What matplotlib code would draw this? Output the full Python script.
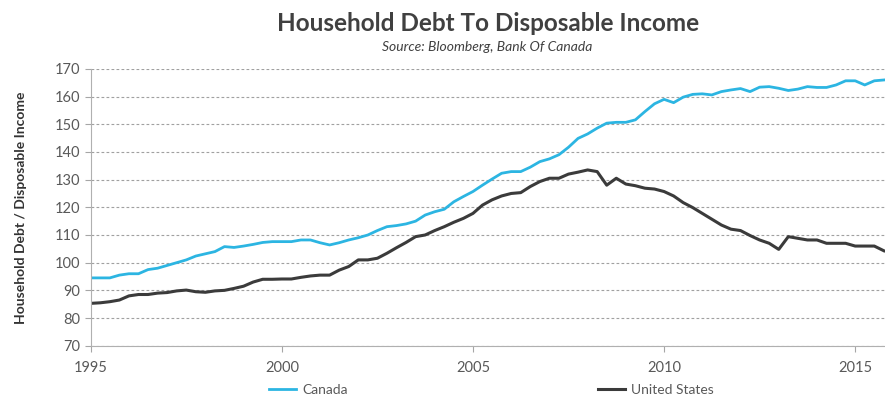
import numpy as np
import matplotlib.pyplot as plt

# Quartalswerte 1995 Q1 bis 2015 Q4
quarters = 1995 + np.arange(84) * 0.25

canada = [94.5, 94.5, 94.5, 95.5, 96.0, 96.0, 97.5, 98.0, 99.0, 100.0, 101.0, 102.4,
          103.2, 104.0, 105.8, 105.5, 106.0, 106.6, 107.3, 107.6, 107.6, 107.6, 108.2, 108.2,
          107.2, 106.4, 107.2, 108.2, 109.0, 110.0, 111.6, 113.0, 113.4, 114.0, 115.0, 117.2,
          118.4, 119.3, 122.0, 123.9, 125.7, 128.0, 130.2, 132.3, 132.9, 132.9, 134.5, 136.5,
          137.5, 139.0, 141.7, 144.9, 146.5, 148.6, 150.4, 150.7, 150.7, 151.6, 154.6, 157.4,
          159.0, 157.8, 159.8, 160.8, 161.0, 160.6, 161.8, 162.4, 162.9, 161.8, 163.4, 163.6,
          163.0, 162.2, 162.7, 163.6, 163.3, 163.3, 164.2, 165.7, 165.7, 164.2, 165.7, 166.0]

usa = [85.3, 85.5, 85.9, 86.5, 88.0, 88.5, 88.5, 89.0, 89.2, 89.8, 90.1, 89.5,
       89.3, 89.8, 90.0, 90.7, 91.5, 93.0, 94.0, 94.0, 94.1, 94.1, 94.7, 95.2,
       95.5, 95.5, 97.3, 98.6, 101.0, 101.0, 101.6, 103.4, 105.4, 107.3, 109.4, 110.0,
       111.6, 113.0, 114.6, 116.0, 117.8, 120.8, 122.7, 124.1, 125.0, 125.3, 127.5, 129.3,
       130.5, 130.5, 132.0, 132.7, 133.5, 132.9, 128.0, 130.5, 128.4, 127.8, 126.9, 126.6,
       125.7, 124.1, 121.7, 119.9, 117.8, 115.7, 113.6, 112.1, 111.6, 109.8, 108.2, 107.0,
       104.8, 109.4, 108.8, 108.2, 108.2, 107.0, 107.0, 107.0, 106.0, 106.0, 106.0, 104.3]

year_ticks = [1995, 2000, 2005, 2010, 2015]
value_ticks = list(range(70, 171, 10))

plt.rcParams['font.family'] = ['Lato', 'DejaVu Sans']
text_col = '#595959'

fig = plt.figure(figsize=(8.85, 3.96), dpi=100)
ax = fig.add_axes([0.1025, 0.127, 0.8975, 0.699])

ax.plot(quarters, canada, color='#2cb5e2', lw=2.0, label='Canada')
ax.plot(quarters, usa, color='#3b3b3b', lw=2.2, label='United States')

ax.set_xlim(1995, 2015.78)
ax.set_ylim(70, 170)
ax.set_xticks(year_ticks)
ax.set_yticks(value_ticks)
ax.tick_params(colors='#a6a6a6', labelcolor=text_col, labelsize=10.5, length=4)
ax.tick_params(axis='x', pad=7)

ax.grid(axis='y', color='#a0a0a0', linestyle=(0, (2.5, 2)), lw=0.8)
ax.set_axisbelow(True)
for s in ['top', 'right']:
    ax.spines[s].set_visible(False)
for s in ['left', 'bottom']:
    ax.spines[s].set_color('#b0b0b0')

ax.set_ylabel('Household Debt / Disposable Income', fontsize=10, fontweight='bold',
              color='#333333', labelpad=20)

fig.text(0.551, 0.94, 'Household Debt To Disposable Income', ha='center', va='center',
         fontsize=17.5, fontweight='bold', color='#404040')
fig.text(0.551, 0.882, 'Source: Bloomberg, Bank Of Canada', ha='center', va='center',
         fontsize=10, style='italic', color='#404040')

leg = fig.legend(loc='center', bbox_to_anchor=(0.555, 0.015), ncol=2, frameon=False,
                 fontsize=10, columnspacing=18, handlelength=2.0, handletextpad=0.4)
for t in leg.get_texts():
    t.set_color(text_col)

fig.savefig('out.png', dpi=100)
